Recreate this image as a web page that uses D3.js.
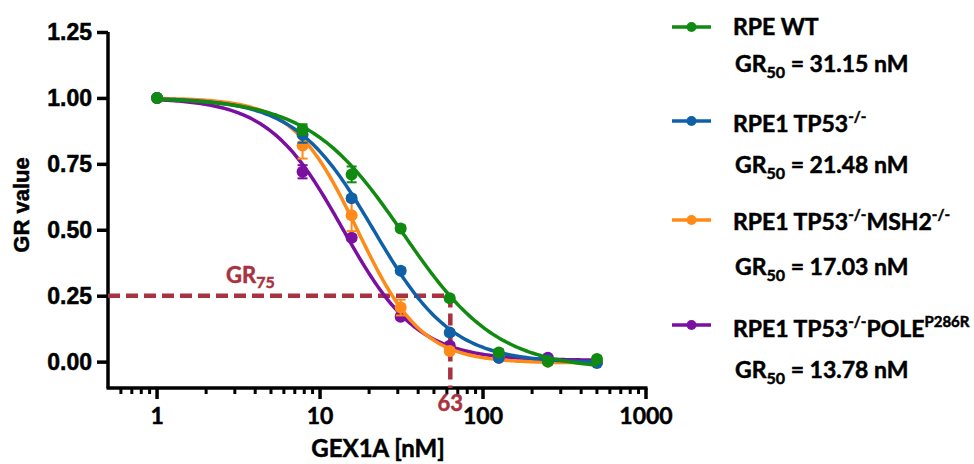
<!DOCTYPE html>
<html>
<head>
<meta charset="utf-8">
<script src="https://cdn.jsdelivr.net/npm/d3@7"></script>
<style>
  body { margin: 0; background: #fff; }
  svg { display: block; }
  svg text { stroke: currentColor; stroke-width: 0.5px; }
</style>
</head>
<body>
<div id="chart"></div>
<script>
// concentrations (nM)
var conc = [1, 7.8125, 15.625, 31.25, 62.5, 125, 250, 500];

var seriesNames = ["RPE WT", "RPE1 TP53", "RPE1 TP53 MSH2", "RPE1 TP53 POLE"];
var seriesColors = ["#118a11", "#1060a8", "#ff8a17", "#7a0fa0"];
var gr50Labels = ["31.15", "21.48", "17.03", "13.78"];

// mean GR values per concentration
var wtValues    = [1.00, 0.88, 0.71, 0.505, 0.24, 0.035, 0.000, 0.010];
var tp53Values  = [1.00, 0.86, 0.62, 0.345, 0.11, 0.015, 0.005, -0.005];
var msh2Values  = [1.00, 0.82, 0.555, 0.205, 0.04, 0.020, 0.000, 0.000];
var poleValues  = [1.00, 0.72, 0.47, 0.170, 0.06, 0.015, 0.015, 0.000];

// error bars (SD)
var wtErr   = [0, 0.02, 0.03, 0.01, 0.01, 0.01, 0.01, 0.01];
var tp53Err = [0, 0.03, 0.01, 0.01, 0.01, 0.005, 0.005, 0.005];
var msh2Err = [0, 0.05, 0.06, 0.03, 0.01, 0.005, 0.005, 0.005];
var poleErr = [0, 0.025, 0.01, 0.01, 0.01, 0.005, 0.005, 0.005];

// fitted sigmoid parameters (bottom, midpoint, hill)
var fitBottom = [-0.03, -0.005, -0.005, 0.005];
var fitMid    = [32.4, 21.4, 17.0, 13.8];
var fitHill   = [1.5, 1.8, 2.2, 1.9];

var yTicks = [0, 0.25, 0.5, 0.75, 1.0, 1.25];
var xMajor = [1, 10, 100, 1000];

// GR75 marker for RPE WT
var gr75Value = 0.25;
var gr75Conc = 63;

var W = 974, H = 464;
var svg = d3.select("#chart").append("svg")
  .attr("width", W).attr("height", H);

var x = d3.scaleLog().domain([0.5, 1000]).range([108, 646]);
var y = d3.scaleLinear().domain([-0.1, 1.25]).range([388, 32]);

var allValues = [wtValues, tp53Values, msh2Values, poleValues];
var allErr = [wtErr, tp53Err, msh2Err, poleErr];

var calFont = "Lato, sans-serif";
var calWeight = "bold";

// Y axis
var yAxis = svg.append("g")
  .attr("transform", "translate(108,0)")
  .call(d3.axisLeft(y).tickValues(yTicks).tickFormat(d3.format(".2f")).tickSize(11).tickPadding(5));
yAxis.select(".domain").attr("d", "M0," + y(1.25) + "V" + 388);
yAxis.selectAll("line, path").attr("stroke", "#000").attr("stroke-width", 3.5);
yAxis.selectAll("text")
  .attr("font-family", "Liberation Sans, Arial, sans-serif")
  .attr("font-weight", "bold").attr("font-size", 23).attr("fill", "#000")
  .style("color", "#000");

// X axis with minor ticks
var minor = [];
[0.1, 1, 10, 100].forEach(function(dec){
  for (var k = 2; k <= 9; k++) {
    var v = dec * k;
    if (v > 0.5 && v < 1000) minor.push(v);
  }
});
var xg = svg.append("g").attr("transform", "translate(0,388)");
xg.append("path")
  .attr("d", "M" + (108 - 1.5) + ",0H" + (x(1000) + 1.5))
  .attr("stroke", "#000").attr("stroke-width", 3.5).attr("fill", "none");
xg.selectAll(".minor").data(minor).enter().append("line")
  .attr("x1", function(d){ return x(d); }).attr("x2", function(d){ return x(d); })
  .attr("y1", 0).attr("y2", 6)
  .attr("stroke", "#000").attr("stroke-width", 3);
xg.selectAll(".major").data(xMajor).enter().append("line")
  .attr("x1", function(d){ return x(d); }).attr("x2", function(d){ return x(d); })
  .attr("y1", 0).attr("y2", 11)
  .attr("stroke", "#000").attr("stroke-width", 3.5);
xg.selectAll(".lab").data(xMajor).enter().append("text")
  .attr("x", function(d){ return x(d); })
  .attr("y", 36)
  .attr("text-anchor", "middle")
  .attr("font-family", calFont).attr("font-weight", calWeight)
  .attr("font-size", 23).attr("fill", "#000")
  .text(function(d){ return d; });

// axis titles
svg.append("text")
  .attr("transform", "translate(29,205) rotate(-90)")
  .attr("text-anchor", "middle")
  .attr("font-family", "Liberation Sans, Arial, sans-serif")
  .attr("font-weight", "bold").attr("font-size", 22)
  .text("GR value");
svg.append("text")
  .attr("x", 378).attr("y", 457)
  .attr("text-anchor", "middle")
  .attr("font-family", calFont).attr("font-weight", calWeight)
  .attr("font-size", 24)
  .text("GEX1A [nM]");

// GR75 dashed guides
var red = "#a8323f";
svg.append("path")
  .attr("d", "M108," + y(gr75Value) + "H" + x(gr75Conc) + "V388")
  .attr("fill", "none").attr("stroke", red).attr("stroke-width", 4.5)
  .attr("stroke-dasharray", "12,6");
var grt = svg.append("text")
  .attr("x", 226).attr("y", 283)
  .attr("font-family", calFont).attr("font-weight", calWeight)
  .attr("font-size", 22).attr("fill", red).style("color", red);
grt.append("tspan").text("GR");
grt.append("tspan").attr("font-size", 16).attr("dy", 5).text("75");
svg.append("text")
  .attr("x", x(gr75Conc)).attr("y", 411)
  .attr("text-anchor", "middle")
  .attr("font-family", calFont).attr("font-weight", calWeight)
  .attr("font-size", 22).attr("fill", red).style("color", red)
  .text(gr75Conc);

// fitted curves
function fitFn(i) {
  return function(c) {
    var b = fitBottom[i];
    return b + (1 - b) / (1 + Math.pow(c / fitMid[i], fitHill[i]));
  };
}
var line = d3.line()
  .x(function(d){ return x(d[0]); })
  .y(function(d){ return y(d[1]); });

var order = [3, 2, 1, 0];
order.forEach(function(i){
  var f = fitFn(i);
  var lo = Math.log10(conc[0]), hi = Math.log10(conc[conc.length - 1]);
  var pts = d3.range(0, 201).map(function(k){
    var c = Math.pow(10, lo + k / 200 * (hi - lo));
    return [c, f(c)];
  });
  var g = svg.append("g");
  g.append("path").datum(pts).attr("d", line)
    .attr("fill", "none").attr("stroke", seriesColors[i]).attr("stroke-width", 3.5);

  var data = conc.map(function(c, j){ return { c: c, v: allValues[i][j], e: allErr[i][j] }; });
  var eb = g.selectAll(".eb").data(data.filter(function(d){ return d.e > 0; })).enter().append("g");
  eb.append("line")
    .attr("x1", function(d){ return x(d.c); }).attr("x2", function(d){ return x(d.c); })
    .attr("y1", function(d){ return y(d.v - d.e); }).attr("y2", function(d){ return y(d.v + d.e); })
    .attr("stroke", seriesColors[i]).attr("stroke-width", 2);
  [-1, 1].forEach(function(s){
    eb.append("line")
      .attr("x1", function(d){ return x(d.c) - 5; }).attr("x2", function(d){ return x(d.c) + 5; })
      .attr("y1", function(d){ return y(d.v + s * d.e); }).attr("y2", function(d){ return y(d.v + s * d.e); })
      .attr("stroke", seriesColors[i]).attr("stroke-width", 2);
  });
  g.selectAll(".dot").data(data).enter().append("circle")
    .attr("cx", function(d){ return x(d.c); })
    .attr("cy", function(d){ return y(d.v); })
    .attr("r", 6)
    .attr("fill", seriesColors[i]);
});

// legend
var legLineY = [27, 121, 220, 325];
var legBase = [35, 132, 230, 337];
var gr50Base = [72, 173, 275, 378];
seriesNames.forEach(function(name, i){
  var lg = svg.append("g");
  lg.append("line")
    .attr("x1", 672).attr("x2", 711)
    .attr("y1", legLineY[i]).attr("y2", legLineY[i])
    .attr("stroke", seriesColors[i]).attr("stroke-width", 3.5);
  lg.append("circle").attr("cx", 691.5).attr("cy", legLineY[i]).attr("r", 5)
    .attr("fill", seriesColors[i]);

  var t = lg.append("text")
    .attr("x", 733).attr("y", legBase[i])
    .attr("font-family", calFont).attr("font-weight", calWeight)
    .attr("font-size", 23).attr("fill", "#000");
  if (i === 0) {
    t.append("tspan").text("RPE WT");
  } else {
    t.append("tspan").text("RPE1 TP53");
    t.append("tspan").attr("font-size", 15).attr("dy", -10).text("-/-");
    if (i === 2) {
      t.append("tspan").attr("dy", 10).text("MSH2");
      t.append("tspan").attr("font-size", 15).attr("dy", -10).text("-/-");
    }
    if (i === 3) {
      t.append("tspan").attr("dy", 10).text("POLE");
      t.append("tspan").attr("font-size", 15).attr("dy", -10).text("P286R");
    }
  }

  var g50 = lg.append("text")
    .attr("x", 735).attr("y", gr50Base[i])
    .attr("font-family", calFont).attr("font-weight", calWeight)
    .attr("font-size", 23).attr("fill", "#000");
  g50.append("tspan").text("GR");
  g50.append("tspan").attr("font-size", 16).attr("dy", 6).text("50");
  g50.append("tspan").attr("dy", -6).text(" = " + gr50Labels[i] + " nM");
});
</script>
</body>
</html>
